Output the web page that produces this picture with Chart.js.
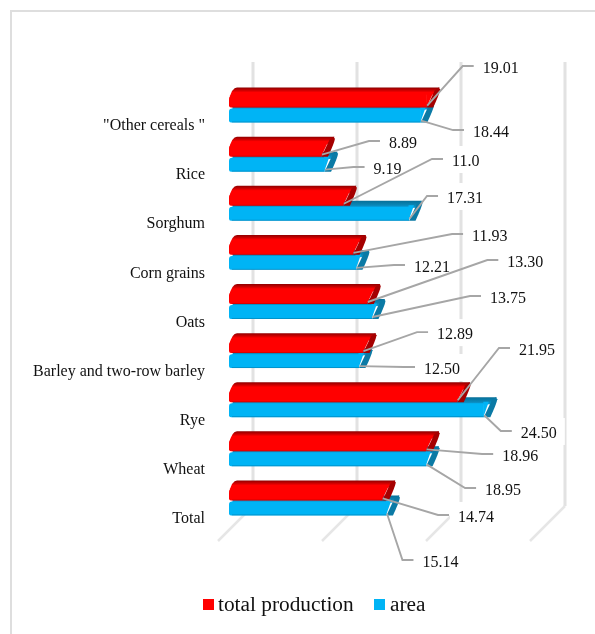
<!DOCTYPE html>
<html>
<head>
<meta charset="utf-8">
<style>
html,body{margin:0;padding:0;background:#fff;overflow:hidden}
#wrap{position:absolute;left:0;top:0;width:595px;height:634px}
canvas{filter:blur(0.4px)}
</style>
<script src="https://cdn.jsdelivr.net/npm/chart.js@4"></script>
</head>
<body>
<div id="wrap"><canvas id="c" width="595" height="634"></canvas></div>
<script>
const categories = ['"Other cereals "','Rice','Sorghum','Corn grains','Oats','Barley and two-row barley','Rye','Wheat','Total'];
const totalProduction = [19.01,8.89,11.0,11.93,13.30,12.89,21.95,18.96,14.74];
const area = [18.44,9.19,17.31,12.21,13.75,12.50,24.50,18.95,15.14];
const totalProductionLabels = ['19.01','8.89','11.0','11.93','13.30','12.89','21.95','18.96','14.74'];
const areaLabels = ['18.44','9.19','17.31','12.21','13.75','12.50','24.50','18.95','15.14'];
const seriesNames = ['total production','area'];
const seriesColors = ['#ff0000','#00b4f5'];
const SERIF = '"Liberation Serif","Times New Roman",serif';

// leader elbow offsets from each bar's end [dx,dy]
const redLeaders = [[36,-34.5],[47.5,-8.6],[88.6,-39.75],[99,-13.9],[120,-37],[54,-14],[41.7,-47.25],[56,9.6],[55.7,21.5]];
const blueLeaders = [[32.2,14.5],[29,2.4],[18,-17.75],[38,2.1],[98,-16],[45,5.9],[17,20.75],[39,28.6],[16,51.5]];

const DX = 13, DY = 6, BACK = 24;
const edgeColors = [
  {stops:[[0,'#8e0000'],[0.4,'#cc0000'],[0.7,'#ff0000'],[1,'#ff0000']], end:'#a50000', low:'rgba(150,0,0,.35)', slant:7},
  {stops:[[0,'#066f98'],[0.6,'#0a86b6'],[1,'#0a9fdc']], end:'#0b7aa5', low:'rgba(0,120,170,.55)', slant:5}
];

const chrome = {
  id:'chrome',
  beforeDraw(chart){
    const c = chart.ctx;
    c.save();
    c.fillStyle = '#dedede';
    c.fillRect(10,10,585,2);
    c.fillRect(10,10,2,624);
    c.restore();
  },
  beforeDatasetsDraw(chart){
    const c = chart.ctx, s = chart.scales.x;
    c.save();
    s.ticks.forEach(t=>{
      const v = s.getPixelForValue(t.value);
      c.strokeStyle = '#e2e2e2';
      c.lineWidth = 3;
      c.beginPath();
      c.moveTo(v+BACK,62);
      c.lineTo(v+BACK,506);
      c.stroke();
      c.lineWidth = 2.5;
      c.strokeStyle = '#e6e6e6';
      c.beginPath();
      c.moveTo(v+BACK,506);
      c.lineTo(v-11,541);
      c.stroke();
    });
    c.restore();
  },
  beforeDatasetDraw(chart,args){
    const c = chart.ctx, col = edgeColors[args.index];
    const base = chart.scales.x.getPixelForValue(0);
    c.save();
    chart.getDatasetMeta(args.index).data.forEach(b=>{
      const yt = b.y-b.height/2, yb = b.y+b.height/2, x = b.x;
      // top face
      const g = c.createLinearGradient(0,yt-DY,0,yt+1);
      col.stops.forEach(s=>g.addColorStop(s[0],s[1]));
      c.fillStyle = g;
      c.beginPath();
      c.moveTo(base+args.index*3,yt+6);
      c.quadraticCurveTo(base+3,yt-DY,base+8,yt-DY);
      c.lineTo(x+DX,yt-DY);
      c.lineTo(x+9,yt+1);
      c.lineTo(base+6,yt+6);
      c.closePath();
      c.fill();
      // end face
      c.fillStyle = col.end;
      c.beginPath();
      c.moveTo(x,yb);
      c.lineTo(x+6.5,yb);
      c.quadraticCurveTo(x+DX,yt,x+DX+0.5,yt-DY+2);
      c.lineTo(x+DX-1,yt-DY);
      c.lineTo(x+8,yt-3);
      c.closePath();
      c.fill();
    });
    c.restore();
  },
  afterDatasetDraw(chart,args){
    const c = chart.ctx, col = edgeColors[args.index];
    const base = chart.scales.x.getPixelForValue(0);
    c.save();
    chart.getDatasetMeta(args.index).data.forEach(b=>{
      const yt = b.y-b.height/2, yb = b.y+b.height/2, x = b.x;
      // slanted bright end of the front face
      c.fillStyle = seriesColors[args.index];
      c.beginPath();
      c.moveTo(x-0.5,yb);
      c.lineTo(x+col.slant,yt-1.5);
      c.lineTo(x-0.5,yt-1.5);
      c.closePath();
      c.fill();
      // soft darker lower edge
      c.strokeStyle = col.low;
      c.lineWidth = 1;
      c.beginPath();
      c.moveTo(base+3,yb-0.5);
      c.lineTo(x,yb-0.5);
      c.stroke();
    });
    c.restore();
  },
  afterDatasetsDraw(chart){
    const c = chart.ctx;
    const sets = [[0,redLeaders,totalProductionLabels],[1,blueLeaders,areaLabels]];
    const items = [];
    sets.forEach(([i,leaders,labels])=>{
      chart.getDatasetMeta(i).data.forEach((b,k)=>{
        const [dx,dy] = leaders[k];
        const sx = b.x+0.5, sy = b.y+5;
        const ex = b.x+dx, ey = b.y+dy;
        items.push({sx,sy,ex,ey,fx:ex+11,text:labels[k]});
      });
    });
    c.save();
    c.font = '16px '+SERIF;
    c.textBaseline = 'middle';
    c.textAlign = 'left';
    c.fillStyle = '#fff';
    items.forEach(o=>{
      const w = c.measureText(o.text).width;
      c.fillRect(o.fx+1,o.ey-13,w+16,27);
    });
    c.strokeStyle = '#a6a6a6';
    c.lineWidth = 1.9;
    items.forEach(o=>{
      c.beginPath();
      c.moveTo(o.sx,o.sy);
      c.lineTo(o.ex,o.ey);
      c.lineTo(o.fx,o.ey);
      c.stroke();
    });
    c.fillStyle = '#111';
    items.forEach(o=>c.fillText(o.text,o.fx+9,o.ey+2.5));
    // legend
    c.font = '21.33px '+SERIF;
    c.fillStyle = seriesColors[0];
    c.fillRect(203,599,11,11);
    c.fillStyle = '#111';
    c.fillText(chart.data.datasets[0].label,218,605);
    c.fillStyle = seriesColors[1];
    c.fillRect(374,599,11,11);
    c.fillStyle = '#111';
    c.fillText(chart.data.datasets[1].label,390,605);
    c.restore();
  }
};

new Chart(document.getElementById('c'),{
  type:'bar',
  data:{
    labels:categories,
    datasets:[
      {label:seriesNames[0],data:totalProduction,backgroundColor:seriesColors[0],borderRadius:{topLeft:6,bottomLeft:2,topRight:0,bottomRight:0},borderSkipped:false},
      {label:seriesNames[1],data:area,backgroundColor:seriesColors[1],borderRadius:{topLeft:3,bottomLeft:2,topRight:0,bottomRight:0},borderSkipped:false}
    ]
  },
  options:{
    indexAxis:'y',
    responsive:false,
    animation:false,
    devicePixelRatio:1,
    categoryPercentage:0.611,
    barPercentage:0.93,
    layout:{padding:{top:83.5,bottom:108.5,right:54,left:0}},
    plugins:{legend:{display:false},tooltip:{enabled:false}},
    scales:{
      x:{display:false,min:0,max:30,ticks:{stepSize:10}},
      y:{
        grid:{display:false,drawTicks:false},
        border:{display:false},
        afterFit(s){s.width=229;},
        ticks:{padding:24,labelOffset:18,color:'#111',font:{family:SERIF,size:16},autoSkip:false}
      }
    }
  },
  plugins:[chrome]
});
</script>
</body>
</html>
